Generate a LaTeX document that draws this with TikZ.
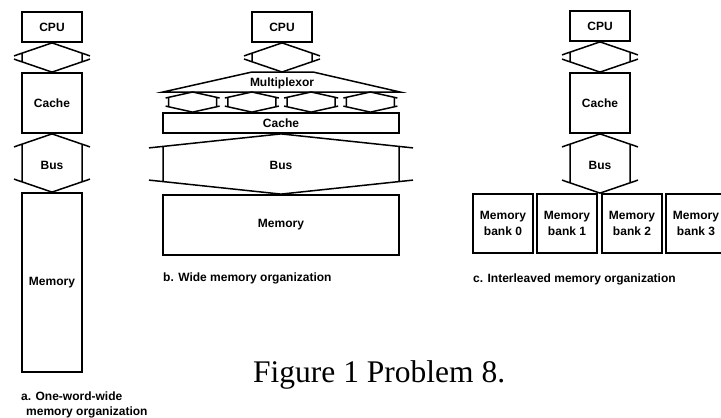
\documentclass[tikz,border=0pt]{standalone}
\usepackage{fontspec}
\setmainfont{Liberation Serif}
\newfontfamily\arialfont{Liberation Sans}
\usetikzlibrary{calc}
\tikzset{
  unit/.style={draw, line width=1.8pt, font=\arialfont\bfseries\fontsize{12}{16}\selectfont,
    inner sep=0pt, minimum width=60pt, minimum height=30pt, align=center},
  busline/.style={line width=1.5pt, line join=miter},
  lbl/.style={font=\arialfont\bfseries\fontsize{12}{16}\selectfont, inner sep=0pt},
  capt/.style={font=\arialfont\bfseries\fontsize{12}{15}\selectfont, inner sep=0pt,
    anchor=west, align=left}
}
% double headed bus arrow: top point, bottom point, shaft half width, barb, head height (pt)
\newcommand{\drawbus}[5]{%
  \draw[busline] let \p1=#1, \p2=#2, \n1={#5*#3/(#3+#4)} in
    (\x1-#3pt-#4pt,\y1-#5pt) -- (\p1) -- (\x1+#3pt+#4pt,\y1-#5pt)
    (\x1-#3pt-#4pt,\y2+#5pt) -- (\x1,\y2) -- (\x1+#3pt+#4pt,\y2+#5pt)
    (\x1-#3pt,\y1-\n1 pt) -- (\x1-#3pt,\y2+\n1 pt)
    (\x1+#3pt,\y1-\n1 pt) -- (\x1+#3pt,\y2+\n1 pt);}
\begin{document}
\begin{tikzpicture}[x=1pt,y=-1pt]
  \useasboundingbox (0,0) rectangle (721,418);
  % a. one-word-wide
  \node[unit] (cpuA) at (52,27) {CPU};
  \node[unit, minimum height=60pt] (cacheA) at (52,103) {Cache};
  \node[unit, minimum height=179pt] (memA) at (52,282.5) {Memory};
  \node[lbl] (busA) at (52,165) {Bus};
  \node[capt] (captA) at (21,404.5) {a. One-word-wide\\\hspace*{5pt}memory organization};
  % b. wide
  \node[unit] (cpuB) at (282,27) {CPU};
  \draw[line width=1.5pt] (163,92) coordinate (muxL) -- (252,72) -- (313,72)
    -- (400,92) coordinate (muxR) -- cycle;
  \coordinate (muxT) at (282,72);
  \node[lbl] (mux) at (282,83) {Multiplexor};
  \node[unit, minimum width=236pt, minimum height=20pt] (cacheB) at (281,123) {Cache};
  \node[lbl] (busB) at (281,165) {Bus};
  \node[unit, minimum width=236pt, minimum height=60pt] (memB) at (281,225) {Memory};
  \node[capt] (captB) at (163,278) {b. Wide memory organization};
  % c. interleaved
  \node[unit] (cpuC) at (600,26) {CPU};
  \node[unit, minimum height=60pt] (cacheC) at (600,103) {Cache};
  \node[lbl] (busC) at (600,165) {Bus};
  \foreach \i/\x in {0/503,1/567,2/632,3/696}
    \node[unit, minimum height=59pt] (bank\i) at (\x,223.5) {Memory\\bank \i};
  \coordinate (bankT) at ($(bank1.north east)!0.5!(bank2.north west)$);
  \node[capt] (captC) at (473,279) {c. Interleaved memory organization};
  \node[font=\fontsize{31.5}{36}\selectfont, anchor=base west, inner sep=0pt] (fig)
    at (253,382) {Figure 1 Problem 8.};
  \begin{scope}
    \drawbus{(cpuA.south)}{(cacheA.north)}{30}{8}{13}
    \drawbus{(cacheA.south)}{(memA.north)}{30}{8}{13}
    \drawbus{(cpuB.south)}{(muxT)}{30}{8}{13}
    \foreach \i in {1,...,4} {
      \coordinate (mt\i) at ($(muxL)!{(2*\i-1)/8}!(muxR)$);
      \coordinate (cb\i) at ($(cacheB.north west)!{(2*\i-1)/8}!(cacheB.north east)$);
      \drawbus{(mt\i)}{(cb\i)}{24}{3}{6}
    }
    \drawbus{(cacheB.south)}{(memB.north)}{118}{14}{14}
    \drawbus{(cpuC.south)}{(cacheC.north)}{30}{8}{13}
    \drawbus{(cacheC.south)}{(bankT)}{30}{8}{13}
  \end{scope}
\end{tikzpicture}
\end{document}
